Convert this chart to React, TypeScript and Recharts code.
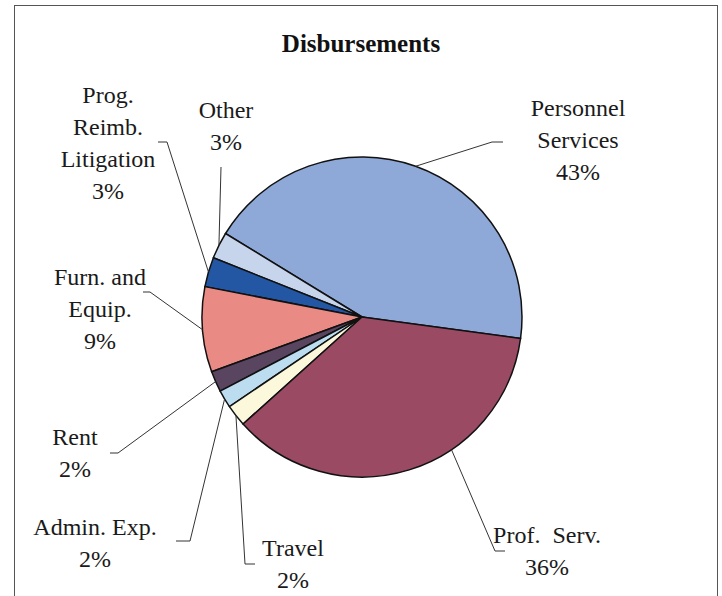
import { PieChart, Pie, Cell } from "recharts";

const categories = [
  "Personnel Services",
  "Other",
  "Prog. Reimb. Litigation",
  "Furn. and Equip.",
  "Rent",
  "Admin. Exp.",
  "Travel",
  "Prof. Serv.",
];
const shares = [43.4, 2.7, 3.0, 8.6, 2.1, 1.8, 2.2, 36.2];
const labelLines = [
  ["Personnel", "Services"],
  ["Other"],
  ["Prog.", "Reimb.", "Litigation"],
  ["Furn. and", "Equip."],
  ["Rent"],
  ["Admin. Exp."],
  ["Travel"],
  ["Prof.\u00a0 Serv."],
];
const colors = [
  "#8EA9D8",
  "#C6D4EC",
  "#2357A3",
  "#EA8A84",
  "#594560",
  "#BCDDF0",
  "#FBF8DC",
  "#9B4A64",
];

const data = categories.map((name, i) => ({ name, value: shares[i] }));

const FONT = "Liberation Serif, Times New Roman, DejaVu Serif, serif";

// label placement relative to pie centre: text centre x, first line y, elbow, end of leader
const layout = [
  { tx: 216, ty: -209, ex: 130, ey: -175, hx: 141, angle: null },
  { tx: -136, ty: -207, ex: -141, ey: -150, hx: null, angle: null },
  { tx: -254, ty: -222, ex: -195, ey: -175, hx: -204, angle: null },
  { tx: -262, ty: -40, ex: -212, ey: -25, hx: -219, angle: null },
  { tx: -287, ty: 120, ex: -244, ey: 136, hx: -252, angle: null },
  { tx: -267, ty: 210, ex: -172, ey: 224, hx: -186, angle: null },
  { tx: -69, ty: 231, ex: -117, ey: 247, hx: -107, angle: null },
  { tx: 185, ty: 218, ex: 133, ey: 234, hx: 143, angle: 304 },
];

const RAD = Math.PI / 180;
const LINE_H = 32;

const renderLabel = (props: any) => {
  const { cx, cy, midAngle, outerRadius, index, percent } = props;
  const l = layout[index];
  const a = (l.angle ?? midAngle) * RAD;
  const sx = cx + outerRadius * Math.cos(a);
  const sy = cy - outerRadius * Math.sin(a);
  const ex = cx + l.ex;
  const ey = cy + l.ey;
  const lines = [...labelLines[index], `${Math.round(percent * 100)}%`];
  const pts =
    l.hx == null
      ? `${sx},${sy} ${ex},${ey}`
      : `${sx},${sy} ${ex},${ey} ${cx + l.hx},${ey}`;
  return (
    <g key={`lbl-${index}`}>
      <polyline points={pts} fill="none" stroke="#333" strokeWidth={1} />
      <text
        x={cx + l.tx}
        y={cy + l.ty}
        textAnchor="middle"
        dominantBaseline="central"
        style={{ fontFamily: FONT, fontSize: 24 }}
        fill="#1a1a1a"
      >
        {lines.map((t, i) => (
          <tspan key={i} x={cx + l.tx} dy={i === 0 ? 0 : LINE_H}>
            {t}
          </tspan>
        ))}
      </text>
    </g>
  );
};

export default function App() {
  return (
    <div
      style={{
        position: "absolute",
        left: 0,
        top: 0,
        width: 722,
        height: 596,
        overflow: "hidden",
        background: "#fff",
      }}
    >
      <div
        style={{
          position: "absolute",
          left: 14,
          top: 5,
          width: 702,
          height: 620,
          border: "1.5px solid #555",
        }}
      />
      <div
        style={{
          position: "absolute",
          left: 0,
          width: 722,
          top: 30,
          textAlign: "center",
          fontFamily: FONT,
          fontWeight: "bold",
          fontSize: 25,
          color: "#111",
        }}
      >
        Disbursements
      </div>
      <div style={{ position: "absolute", left: 0, top: 0 }}>
        <PieChart width={722} height={596} margin={{ top: 0, right: 0, bottom: 0, left: 0 }}>
          <Pie
            data={data}
            dataKey="value"
            nameKey="name"
            cx={362}
            cy={317}
            outerRadius={160}
            startAngle={-7.7}
            endAngle={352.3}
            stroke="#111"
            strokeWidth={1.5}
            label={renderLabel}
            labelLine={false}
            isAnimationActive={false}
          >
            {data.map((d, i) => (
              <Cell key={d.name} fill={colors[i]} />
            ))}
          </Pie>
        </PieChart>
      </div>
    </div>
  );
}
